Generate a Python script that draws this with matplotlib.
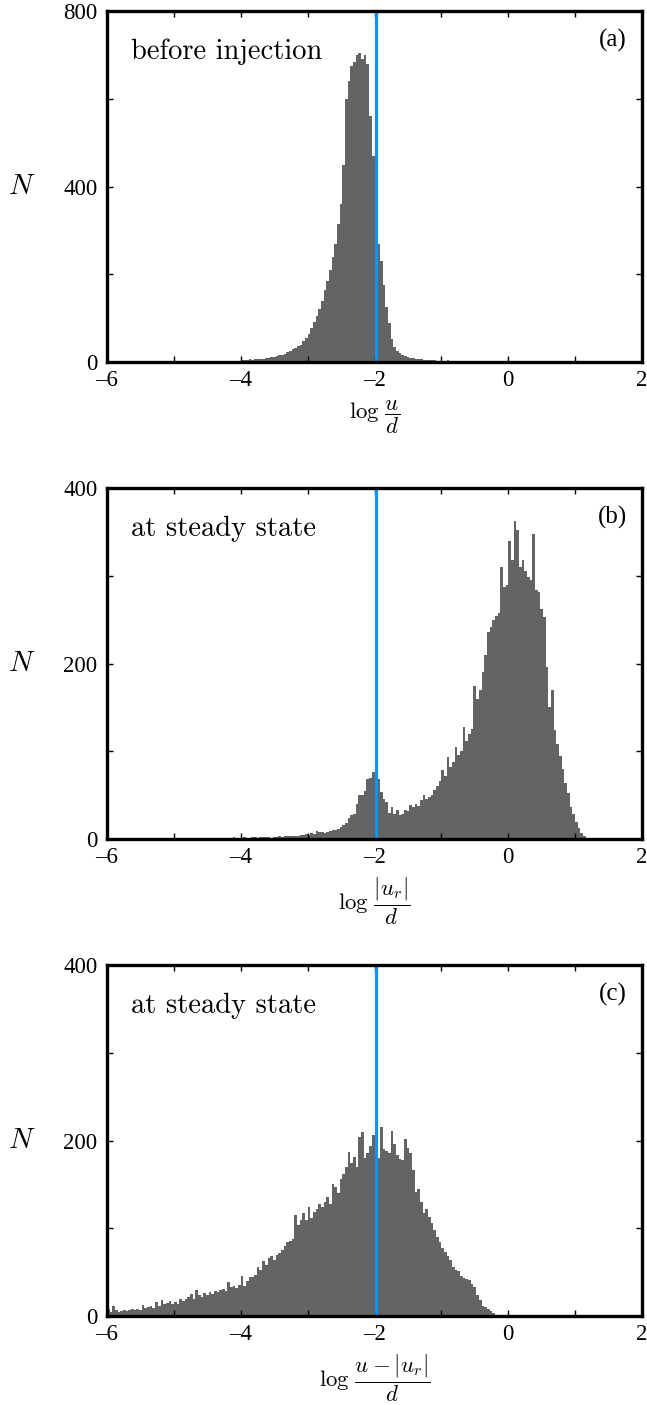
import numpy as np
import matplotlib
matplotlib.use("Agg")
import matplotlib.pyplot as plt
from matplotlib.ticker import MultipleLocator, FuncFormatter

plt.rcParams['font.family'] = ['Liberation Serif', 'DejaVu Serif']
plt.rcParams['mathtext.fontset'] = 'cm'

# histogram data, bin width 0.04 in log space
bin_w = 0.04

# (a) before injection, bins start at -4.6
a_start = -4.6
a_counts = [
    1, 0, 1, 1, 0, 2, 1, 1, 2, 1,
    2, 1, 2, 3, 2, 4, 5, 4, 6, 5,
    7, 6, 8, 8, 10, 9, 11, 12, 13, 15,
    16, 18, 22, 25, 29, 33, 36, 40, 48, 56,
    64, 78, 92, 104, 120, 140, 164, 185, 210, 240,
    270, 315, 360, 450, 600, 640, 675, 685, 700, 705,
    690, 700, 680, 560, 470, 400, 270, 230, 175, 125,
    90, 52, 35, 26, 20, 16, 13, 11, 10, 9,
    8, 7, 6, 5, 5, 4, 4, 4, 3, 3,
    3, 2, 4, 2, 1,
]

# (b) at steady state, |u_r|, bins start at -5.6
b_start = -5.6
b_counts = [
    1, 0, 1, 0, 0, 1, 1, 0, 1, 0,
    1, 1, 0, 1, 1, 0, 1, 1, 0, 1,
    0, 1, 1, 0, 1, 1, 1, 0, 1, 1,
    1, 0, 1, 1, 1, 1, 1, 2, 1, 1,
    1, 2, 1, 1, 2, 2, 1, 2, 2, 2,
    2, 1, 2, 2, 3, 2, 3, 3, 3, 4,
    4, 4, 5, 5, 6, 5, 7, 6, 9, 8,
    8, 7, 8, 9, 10, 10, 12, 14, 16, 18,
    24, 27, 28, 40, 50, 50, 55, 68, 70, 76,
    74, 68, 54, 46, 42, 30, 36, 28, 33, 27,
    29, 33, 32, 39, 36, 40, 38, 44, 50, 46,
    48, 50, 56, 60, 66, 79, 72, 94, 82, 88,
    105, 96, 100, 128, 112, 120, 126, 175, 160, 170,
    190, 210, 236, 242, 250, 254, 258, 310, 287, 290,
    340, 318, 362, 352, 310, 318, 305, 299, 295, 348,
    284, 282, 262, 253, 196, 151, 170, 124, 108, 95,
    80, 64, 52, 36, 28, 20, 13, 7, 3, 1,
]

# (c) at steady state, u - |u_r|, bins start at -6.0
c_start = -6.0
c_counts = [
    8, 5, 12, 7, 5, 6, 7, 6, 7, 8,
    7, 8, 7, 13, 9, 10, 11, 9, 16, 12,
    18, 14, 15, 17, 14, 16, 14, 20, 17, 19,
    22, 25, 20, 30, 24, 22, 26, 24, 27, 25,
    28, 27, 30, 31, 29, 39, 33, 34, 32, 35,
    46, 34, 40, 45, 44, 47, 56, 52, 63, 58,
    66, 68, 64, 70, 72, 75, 80, 84, 86, 88,
    115, 104, 109, 117, 110, 124, 112, 119, 122, 128,
    124, 130, 136, 128, 151, 147, 140, 156, 162, 170,
    187, 175, 181, 170, 204, 210, 180, 186, 194, 206,
    196, 180, 215, 190, 188, 186, 211, 196, 183, 179,
    178, 202, 192, 186, 166, 141, 145, 130, 118, 122,
    113, 106, 98, 90, 84, 78, 73, 68, 64, 56,
    52, 51, 46, 43, 42, 41, 36, 33, 24, 18,
    12, 10, 8, 6, 3, 1,
]

threshold = -1.98
panel_tags = ['(a)', '(b)', '(c)']
panel_notes = ['before injection', 'at steady state', 'at steady state']
xlabels = [r'$\log\,\dfrac{u}{d}$', r'$\log\,\dfrac{|u_r|}{d}$', r'$\log\,\dfrac{u-|u_r|}{d}$']
ymaxes = [800, 400, 400]

hist_color = '#646464'
line_color = '#0A96F5'

fig = plt.figure(figsize=(6.47, 14.05), dpi=100)
ax_bottoms = [0.7423, 0.4028, 0.0633]

datasets = [(a_start, a_counts), (b_start, b_counts), (c_start, c_counts)]

def minus_fmt(v, p):
    if v < 0:
        return '\u2013%d' % -v
    return '%d' % v

for i in range(3):
    ax = fig.add_axes([0.1654, ax_bottoms[i], 0.8269, 0.2498])
    start, counts = datasets[i]
    edges = start + bin_w * np.arange(len(counts) + 1)
    ax.stairs(counts, edges, fill=True, color=hist_color, lw=0)
    ax.axvline(threshold, color=line_color, lw=2.3)

    ax.set_xlim(-6, 2)
    ax.set_ylim(0, ymaxes[i])
    ax.xaxis.set_major_locator(MultipleLocator(2))
    ax.xaxis.set_minor_locator(MultipleLocator(1))
    ax.yaxis.set_major_locator(MultipleLocator(ymaxes[i] / 2))
    ax.yaxis.set_minor_locator(MultipleLocator(ymaxes[i] / 4))
    ax.xaxis.set_major_formatter(FuncFormatter(minus_fmt))
    ax.tick_params(which='both', direction='in', top=True, right=True,
                   length=4.5, width=1.0, labelsize=16.5, pad=7)
    ax.tick_params(axis='x', pad=6)
    for s in ax.spines.values():
        s.set_linewidth(2.4)

    ax.text(0.045, 0.883, panel_notes[i], transform=ax.transAxes, fontsize=20.5,
            family='cmr10', va='center', ha='left')
    ax.text(0.972, 0.917, panel_tags[i], transform=ax.transAxes, fontsize=18,
            va='center', ha='right')

    ax.set_ylabel(r'$N$', rotation=0, fontsize=21, va='center')
    ax.yaxis.set_label_coords(-0.159, 0.5)
    ax.set_xlabel(xlabels[i], fontsize=16.5, labelpad=5)

fig.savefig('out.png', dpi=100)
